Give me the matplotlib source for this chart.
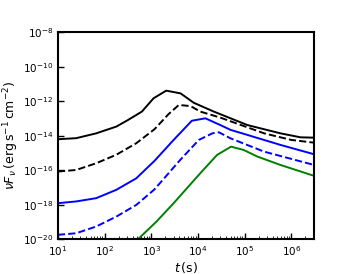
import numpy as np
import matplotlib.pyplot as plt

# light curves (log10 t, log10 nuF_nu)
t_k = [1.0, 1.39, 1.82, 2.25, 2.5, 2.80, 3.05, 3.32, 3.63, 3.91, 4.34, 5.06, 5.77, 6.20, 6.49]
f_k = [-14.2, -14.14, -13.86, -13.47, -13.09, -12.6, -11.83, -11.39, -11.55, -12.09, -12.6, -13.38, -13.86, -14.09, -14.11]

t_kd = [1.0, 1.39, 1.82, 2.25, 2.68, 3.07, 3.37, 3.59, 3.84, 4.05, 4.48, 5.42, 6.0, 6.49]
f_kd = [-16.07, -15.98, -15.59, -15.1, -14.43, -13.62, -12.75, -12.22, -12.28, -12.6, -12.95, -13.86, -14.24, -14.4]

t_b = [1.0, 1.39, 1.82, 2.25, 2.68, 3.07, 3.48, 3.87, 4.16, 4.48, 4.70, 5.06, 5.77, 6.49]
f_b = [-17.9, -17.8, -17.61, -17.13, -16.46, -15.45, -14.24, -13.13, -12.99, -13.38, -13.66, -13.95, -14.53, -15.07]

t_bd = [1.0, 1.39, 1.82, 2.25, 2.68, 3.07, 3.62, 4.02, 4.31, 4.45, 4.70, 5.42, 6.49]
f_bd = [-19.73, -19.64, -19.25, -18.68, -18.0, -17.1, -15.4, -14.24, -13.86, -13.8, -14.15, -14.92, -15.69]

t_g = [2.71, 3.11, 3.48, 4.05, 4.41, 4.71, 4.98, 5.27, 5.77, 6.49]
f_g = [-20.0, -18.97, -17.9, -16.17, -15.11, -14.63, -14.82, -15.2, -15.69, -16.32]

fig = plt.figure(figsize=(3.49, 2.74), dpi=100)
ax = fig.add_axes([0.166, 0.126, 0.734, 0.757])

ax.plot(10**np.array(t_k), 10**np.array(f_k), 'k-', lw=1.4)
ax.plot(10**np.array(t_kd), 10**np.array(f_kd), 'k--', lw=1.4)
ax.plot(10**np.array(t_b), 10**np.array(f_b), 'b-', lw=1.4)
ax.plot(10**np.array(t_bd), 10**np.array(f_bd), 'b--', lw=1.4)
ax.plot(10**np.array(t_g), 10**np.array(f_g), 'g-', lw=1.4)

ax.set_xscale('log')
ax.set_yscale('log')
ax.set_xlim(10, 10**6.49)
ax.set_ylim(1e-20, 1e-8)
ax.set_yticks([1e-20, 1e-18, 1e-16, 1e-14, 1e-12, 1e-10, 1e-8])
ax.tick_params(which='both', direction='in', labelsize=7.5)
ax.tick_params(which='major', length=4, width=1)
ax.tick_params(which='minor', length=2, width=0.6)
for s in ax.spines.values():
    s.set_linewidth(1.5)

ax.set_xlabel(r'$t\,(\mathrm{s})$', fontsize=9, labelpad=1)
ax.set_ylabel(r'$\nu F_\nu\,(\mathrm{erg\,s^{-1}\,cm^{-2}})$', fontsize=9, labelpad=1)

fig.savefig('out.png', dpi=100)
